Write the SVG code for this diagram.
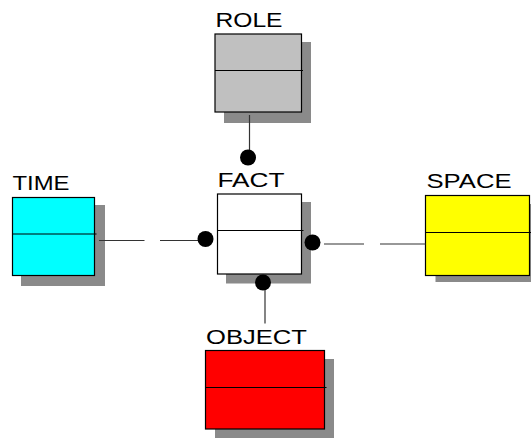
<svg xmlns="http://www.w3.org/2000/svg" width="531" height="438" viewBox="0 0 531 438">
<style>
.shadow{fill:#8a8a8a}
.box{stroke:#000;stroke-width:1.2}
.div{stroke:#000;stroke-width:1.2}
.lbl{font-family:"Liberation Sans",Arial,sans-serif;font-size:19.5px;fill:#000}
.conn{stroke:#333;stroke-width:1.2;fill:none}
.dot{fill:#000}
</style>
<rect width="531" height="438" fill="#fff"/>
<g id="role">
<rect class="shadow" x="224" y="42" width="87" height="81"/>
<rect class="box" x="215" y="34" width="86.5" height="78" fill="#c0c0c0"/>
<line class="div" x1="215" y1="70.5" x2="303" y2="70.5"/>
<text class="lbl" x="215.5" y="26.5" textLength="67" lengthAdjust="spacingAndGlyphs">ROLE</text>
</g>
<g id="time">
<rect class="shadow" x="21" y="205" width="84" height="81"/>
<rect class="box" x="12.5" y="197.5" width="82" height="78" fill="#00ffff"/>
<line class="div" x1="12.5" y1="234" x2="96.5" y2="234"/>
<text class="lbl" x="12.5" y="190" textLength="57" lengthAdjust="spacingAndGlyphs">TIME</text>
</g>
<g id="fact">
<rect class="shadow" x="226" y="202" width="85" height="81.5"/>
<rect class="box" x="217.5" y="194" width="84" height="80" fill="#fff"/>
<line class="div" x1="217.5" y1="230.5" x2="303.5" y2="230.5"/>
<text class="lbl" x="217.5" y="186.5" textLength="67" lengthAdjust="spacingAndGlyphs">FACT</text>
</g>
<g id="space">
<rect class="shadow" x="435.5" y="204" width="96" height="78"/>
<rect class="box" x="425.5" y="195.5" width="104" height="80" fill="#ffff00"/>
<line class="div" x1="425.5" y1="232.5" x2="531" y2="232.5"/>
<text class="lbl" x="426.5" y="187.5" textLength="85" lengthAdjust="spacingAndGlyphs">SPACE</text>
</g>
<g id="object">
<rect class="shadow" x="215" y="359" width="119" height="79"/>
<rect class="box" x="205.5" y="350.5" width="119" height="78.5" fill="#ff0000"/>
<line class="div" x1="205.5" y1="387.5" x2="326.5" y2="387.5"/>
<text class="lbl" x="206" y="344" textLength="101" lengthAdjust="spacingAndGlyphs">OBJECT</text>
</g>
<g id="connectors">
<line class="conn" x1="249.5" y1="115" x2="249.5" y2="152"/>
<circle class="dot" cx="248" cy="157.5" r="8"/>
<line class="conn" x1="99" y1="240.5" x2="144.5" y2="240.5"/>
<line class="conn" x1="160" y1="240.5" x2="200" y2="240.5"/>
<circle class="dot" cx="205.5" cy="239" r="8"/>
<circle class="dot" cx="312.5" cy="242.5" r="8"/>
<line class="conn" x1="324" y1="244" x2="364" y2="244"/>
<line class="conn" x1="380" y1="244" x2="425.5" y2="244"/>
<circle class="dot" cx="263" cy="282.5" r="8"/>
<line class="conn" x1="265" y1="290" x2="265" y2="323.5"/>
</g>
</svg>
